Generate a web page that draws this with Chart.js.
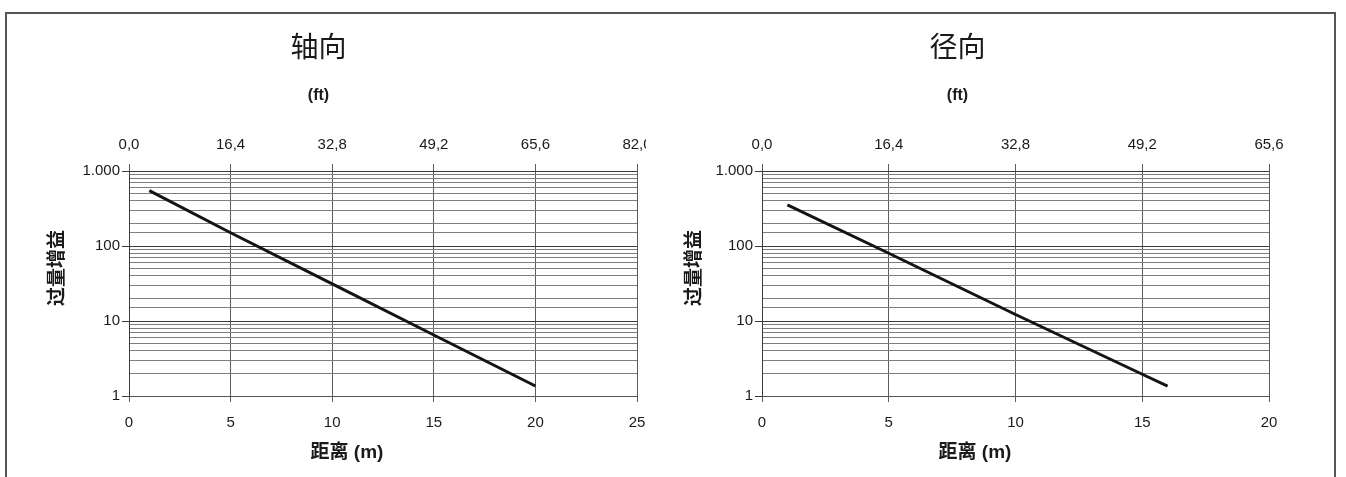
<!DOCTYPE html>
<html>
<head>
<meta charset="utf-8">
<script src="https://cdn.jsdelivr.net/npm/chart.js@4.4.1/dist/chart.umd.min.js"></script>
<style>
body { margin: 0; background: #fff; width: 1346px; height: 477px; overflow: hidden; position: relative; }
#frame { position: absolute; left: 5px; top: 12px; width: 1331px; height: 480px; border: 2px solid #555; border-bottom: none; box-sizing: border-box; pointer-events: none; z-index: 2; }
#c1 { position: absolute; left: 0; top: 0; }
#c2 { position: absolute; left: 646px; top: 0; background: #fff; }
</style>
</head>
<body>
<div id="frame"></div>
<canvas id="c1" width="694" height="477"></canvas>
<canvas id="c2" width="658" height="477"></canvas>
<script>
// データ
var axialDist = [1, 5, 10, 15, 20];
var axialGain = [548, 150, 31.3, 6.5, 1.36];
var radialDist = [1, 5, 10, 15, 16];
var radialGain = [353, 80, 12.2, 1.95, 1.35];

// 目盛り
var yMajor = [1, 10, 100, 1000];
var yMajorLabels = ['1', '10', '100', '1.000'];
var axialFtLabels = ['0,0', '16,4', '32,8', '49,2', '65,6', '82,0'];
var radialFtLabels = ['0,0', '16,4', '32,8', '49,2', '65,6'];

var fam = "'Liberation Sans', 'Noto Sans CJK SC', sans-serif";

// 軸タイトルは位置を指定して描く
var captionPlugin = {
    id: 'caption',
    afterDraw: function (chart, args, o) {
        var ctx = chart.ctx;
        ctx.save();
        ctx.font = 'bold 19px ' + fam;
        ctx.fillStyle = '#1a1a1a';
        ctx.textAlign = 'center';
        ctx.textBaseline = 'middle';
        ctx.fillText(o.text, chart.width / 2, o.y);
        // 縦軸タイトル
        ctx.translate(o.yx, o.yy);
        ctx.rotate(-Math.PI / 2);
        ctx.fillText(o.yText, 0, 0);
        ctx.restore();
    }
};

function makeChart(id, title, xs, ys, xMax, ftLabels, yWidth, yTitleX, rightPad) {
    var ctx = document.getElementById(id).getContext('2d');
    var pts = [];
    for (var i = 0; i < xs.length; i++) {
        pts.push({ x: xs[i], y: ys[i] });
    }
    return new Chart(ctx, {
        type: 'line',
        data: {
            datasets: [{
                data: pts,
                borderColor: '#141414',
                borderWidth: 3,
                pointRadius: 0,
                fill: false,
                tension: 0
            }]
        },
        plugins: [captionPlugin],
        options: {
            responsive: false,
            animation: false,
            layout: { padding: { left: 0, right: rightPad, top: 0, bottom: 0 } },
            plugins: {
                legend: { display: false },
                tooltip: { enabled: false },
                title: {
                    display: true,
                    text: title,
                    color: '#1a1a1a',
                    font: { family: fam, size: 28, weight: 'normal' },
                    padding: { top: 32, bottom: 0 }
                },
                subtitle: {
                    display: true,
                    text: '(ft)',
                    color: '#1a1a1a',
                    font: { family: fam, size: 16, weight: 'bold' },
                    padding: { top: 20.6, bottom: 0 }
                },
                caption: { text: '距离 (m)', y: 453, yText: '过量增益', yx: yTitleX, yy: 268 }
            },
            scales: {
                x: {
                    type: 'linear',
                    position: 'bottom',
                    min: 0,
                    max: xMax,
                    ticks: { stepSize: 5, color: '#1a1a1a', padding: 12, font: { family: fam, size: 15 }, maxRotation: 0 },
                    grid: { color: '#5c5c5c', tickColor: '#5c5c5c', tickLength: 6, lineWidth: 1 },
                    border: { color: '#555' },
                    afterFit: function (s) { s.height = 81; }
                },
                x2: {
                    type: 'linear',
                    position: 'top',
                    min: 0,
                    max: xMax,
                    ticks: {
                        stepSize: 5,
                        color: '#1a1a1a',
                        padding: 10,
                        maxRotation: 0,
                        font: { family: fam, size: 15 },
                        callback: function (v, i) { return ftLabels[i]; }
                    },
                    grid: { drawOnChartArea: false, tickColor: '#5c5c5c', tickLength: 7 },
                    border: { display: false },
                    afterFit: function (s) { s.height = 65.6; }
                },
                y: {
                    type: 'logarithmic',
                    min: 1,
                    max: 1000,
                    ticks: {
                        autoSkip: false,
                        color: '#1a1a1a',
                        padding: 2,
                        font: { family: fam, size: 15 },
                        callback: function (v) {
                            var k = yMajor.indexOf(v);
                            return k >= 0 ? yMajorLabels[k] : '';
                        }
                    },
                    grid: {
                        tickLength: 7,
                        color: function (c) {
                            return c.tick && yMajor.indexOf(c.tick.value) >= 0 ? '#3c3c3c' : '#7e7e7e';
                        },
                        tickColor: function (c) {
                            return c.tick && yMajor.indexOf(c.tick.value) >= 0 ? '#3c3c3c' : 'rgba(0,0,0,0)';
                        }
                    },
                    border: { color: '#3c3c3c' },
                    afterFit: function (s) { s.width = yWidth; }
                }
            }
        }
    });
}

makeChart('c1', '轴向', axialDist, axialGain, 25, axialFtLabels, 129, 58, 57);
makeChart('c2', '径向', radialDist, radialGain, 20, radialFtLabels, 116, 49, 35);
</script>
</body>
</html>
